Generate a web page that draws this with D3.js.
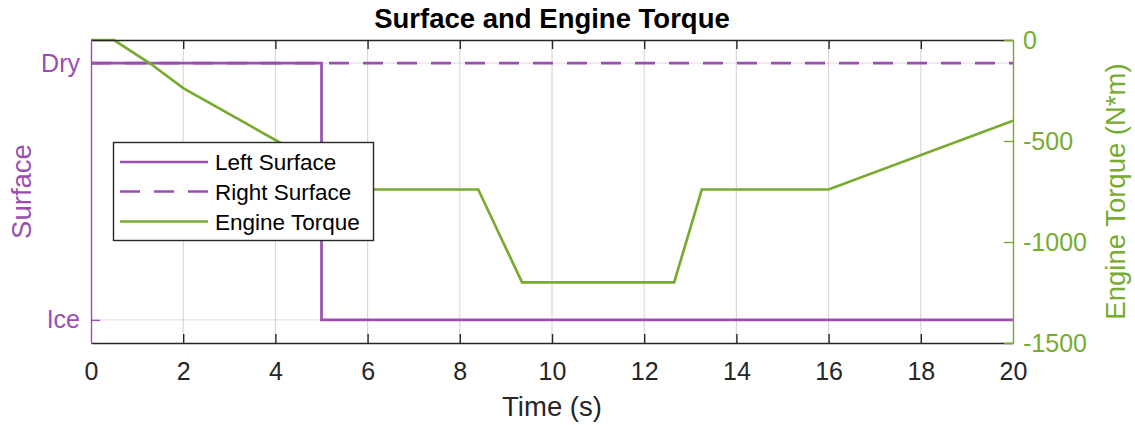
<!DOCTYPE html>
<html><head><meta charset="utf-8">
<script src="https://cdn.jsdelivr.net/npm/d3@7"></script>
<style>body{margin:0;background:#fff}svg{display:block}text{font-family:"Liberation Sans",Arial,sans-serif}</style>
</head><body><svg id="c" width="1135" height="425"></svg>
<script>
const timeTicks = [0,2,4,6,8,10,12,14,16,18,20];
const surfaceCategories = ["Ice","Dry"];
const torqueTicks = [0,-500,-1000,-1500];
const leftSurfaceT = [0,5,5,20];
const leftSurfaceV = ["Dry","Dry","Ice","Ice"];
const rightSurfaceT = [0,20];
const rightSurfaceV = ["Dry","Dry"];
const torqueT = [0,0.5,1.3,2,4,5.9,8.4,9.35,12.65,13.25,16,20];
const torqueV = [0,0,-119,-238,-495,-740,-740,-1200,-1200,-740,-740,-400];
const legendLabels = ["Left Surface","Right Surface","Engine Torque"];

const purple = "#9a4fb0", green = "#77ac30", dark = "#262626";
const svg = d3.select("#c");
const L=91,R=1013,T=40,B=343;
const x = d3.scaleLinear().domain([0,20]).range([L,R]);
const yS = d3.scaleLinear().domain([-0.09,1.09]).range([B,T]);
const catIdx = c => surfaceCategories.indexOf(c);
const yT = d3.scaleLinear().domain([-1500,0]).range([B,T]);

// grid
svg.append("g").selectAll("line").data(timeTicks.slice(1,-1)).join("line")
  .attr("x1",d=>x(d)).attr("x2",d=>x(d)).attr("y1",T).attr("y2",B)
  .attr("stroke","#d9d9d9").attr("stroke-width",1.2);
svg.append("g").selectAll("line").data(surfaceCategories).join("line")
  .attr("x1",L).attr("x2",R).attr("y1",d=>yS(catIdx(d))).attr("y2",d=>yS(catIdx(d)))
  .attr("stroke",purple).attr("stroke-opacity",0.2).attr("stroke-width",1.2);

// lines
const lw = 2.7;
const lineS = d3.line().x(d=>x(d[0])).y(d=>yS(catIdx(d[1])));
svg.append("path").datum(leftSurfaceT.map((t,i)=>[t,leftSurfaceV[i]]))
  .attr("d",lineS).attr("fill","none").attr("stroke",purple).attr("stroke-width",lw);
svg.append("path").datum(rightSurfaceT.map((t,i)=>[t,rightSurfaceV[i]]))
  .attr("d",lineS).attr("fill","none").attr("stroke",purple).attr("stroke-width",lw)
  .attr("stroke-dasharray","20,14");
const lineT = d3.line().x(d=>x(d[0])).y(d=>yT(d[1]));
svg.append("path").datum(torqueT.map((t,i)=>[t,torqueV[i]]))
  .attr("d",lineT).attr("fill","none").attr("stroke",green).attr("stroke-width",lw);

// axes
const fs=25;
const xb = svg.append("g").attr("transform",`translate(0,${B})`)
  .call(d3.axisBottom(x).tickValues(timeTicks).tickSizeInner(-9).tickSizeOuter(0).tickPadding(19).tickFormat(d=>String(d)));
const xt = svg.append("g").attr("transform",`translate(0,${T})`)
  .call(d3.axisTop(x).tickValues(timeTicks).tickSizeInner(-9).tickSizeOuter(0).tickFormat(""));
[xb,xt].forEach(g=>{g.select(".domain").attr("stroke",dark).attr("stroke-width",1.4);
  g.selectAll(".tick line").attr("stroke",dark).attr("stroke-width",1.4);
  g.selectAll("text").attr("fill",dark).attr("font-size",fs).attr("font-family","Liberation Sans, Arial, sans-serif");});
xb.selectAll(".tick").filter(d=>d===0||d===20).select("line").remove();
xt.selectAll(".tick").filter(d=>d===0||d===20).select("line").remove();

const yl = svg.append("g").attr("transform",`translate(${L},0)`)
  .call(d3.axisLeft(d3.scaleLinear().domain(yS.domain()).range(yS.range()))
    .tickValues([0,1]).tickFormat(d=>surfaceCategories[d]).tickSizeInner(-9).tickSizeOuter(0).tickPadding(11));
yl.select(".domain").attr("stroke",purple).attr("stroke-width",1.4);
yl.selectAll(".tick line").attr("stroke",purple).attr("stroke-width",1.4);
yl.selectAll("text").attr("fill",purple).attr("font-size",fs).attr("font-family","Liberation Sans, Arial, sans-serif");

const yr = svg.append("g").attr("transform",`translate(${R},0)`)
  .call(d3.axisRight(yT).tickValues(torqueTicks).tickFormat(d=>String(d)).tickSizeInner(-9).tickSizeOuter(0).tickPadding(10));
yr.select(".domain").attr("stroke",green).attr("stroke-width",1.4);
yr.selectAll(".tick line").attr("stroke",green).attr("stroke-width",1.4);
yr.selectAll("text").attr("fill",green).attr("font-size",fs).attr("font-family","Liberation Sans, Arial, sans-serif");

// labels
svg.append("text").attr("x",(L+R)/2).attr("y",28).attr("text-anchor","middle")
  .attr("font-size",27.5).attr("font-weight","bold").attr("fill","#000").text("Surface and Engine Torque");
svg.append("text").attr("x",(L+R)/2).attr("y",416).attr("text-anchor","middle")
  .attr("font-size",27.5).attr("fill",dark).text("Time (s)");
svg.append("text").attr("transform",`translate(31,${(T+B)/2}) rotate(-90)`).attr("text-anchor","middle")
  .attr("font-size",27.5).attr("fill",purple).text("Surface");
svg.append("text").attr("transform",`translate(1125,${(T+B)/2}) rotate(-90)`).attr("text-anchor","middle")
  .attr("font-size",27.5).attr("fill",green).text("Engine Torque (N*m)");

// legend
const lg = svg.append("g");
lg.append("rect").attr("x",113.5).attr("y",142.5).attr("width",260).attr("height",98)
  .attr("fill","#fff").attr("stroke",dark).attr("stroke-width",1.4);
const rows=[162,191.5,221.5];
const styles=[{c:purple,d:null},{c:purple,d:"20,14"},{c:green,d:null}];
legendLabels.forEach((lab,i)=>{
  lg.append("line").attr("x1",120).attr("x2",208).attr("y1",rows[i]).attr("y2",rows[i])
    .attr("stroke",styles[i].c).attr("stroke-width",lw).attr("stroke-dasharray",styles[i].d);
  lg.append("text").attr("x",215).attr("y",rows[i]).attr("dy","0.36em")
    .attr("font-size",22.5).attr("fill","#000").text(lab);
});
</script></body></html>
